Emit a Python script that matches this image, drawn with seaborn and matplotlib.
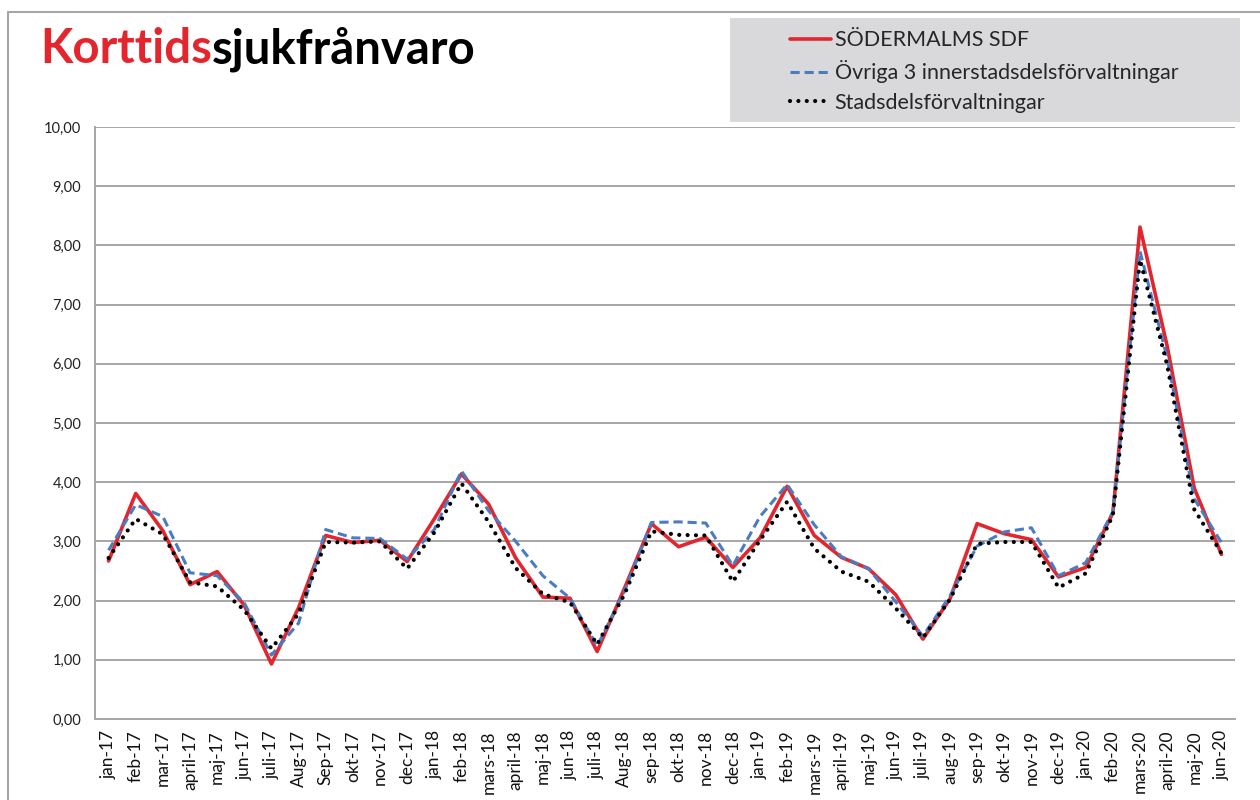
import numpy as np
import pandas as pd
import seaborn as sns
from matplotlib import pyplot as plt
from matplotlib.patches import Rectangle
from matplotlib.lines import Line2D


months = ["jan-17", "feb-17", "mar-17", "april-17", "maj-17", "jun-17", "juli-17",
          "Aug-17", "Sep-17", "okt-17", "nov-17", "dec-17",
          "jan-18", "feb-18", "mars-18", "april-18", "maj-18", "jun-18", "juli-18",
          "Aug-18", "sep-18", "okt-18", "nov-18", "dec-18",
          "jan-19", "feb-19", "mars-19", "april-19", "maj-19", "jun-19", "juli-19",
          "aug-19", "sep-19", "okt-19", "nov-19", "dec-19",
          "jan-20", "feb-20", "mars-20", "april-20", "maj-20", "jun-20"]

sodermalm = [2.67, 3.81, 3.18, 2.27, 2.49, 1.92, 0.93, 1.88, 3.10, 2.98, 3.02, 2.66,
             3.38, 4.14, 3.63, 2.72, 2.06, 2.04, 1.14, 2.20, 3.30, 2.91, 3.07, 2.56,
             3.06, 3.93, 3.10, 2.73, 2.54, 2.10, 1.35, 2.03, 3.30, 3.13, 3.03, 2.40,
             2.56, 3.48, 8.31, 6.30, 3.90, 2.78]
ovriga = [2.85, 3.62, 3.42, 2.47, 2.42, 1.96, 1.08, 1.62, 3.20, 3.06, 3.05, 2.70,
          3.20, 4.19, 3.52, 3.00, 2.42, 2.04, 1.23, 2.15, 3.32, 3.33, 3.31, 2.59,
          3.42, 3.96, 3.28, 2.74, 2.54, 1.98, 1.40, 2.08, 2.92, 3.16, 3.23, 2.42,
          2.64, 3.50, 7.90, 6.10, 3.72, 2.98]
stadsdels = [2.72, 3.38, 3.12, 2.31, 2.24, 1.84, 1.19, 1.78, 2.99, 2.98, 3.00, 2.54,
             3.15, 3.98, 3.33, 2.55, 2.11, 1.97, 1.26, 2.10, 3.17, 3.11, 3.10, 2.32,
             3.02, 3.67, 2.88, 2.49, 2.32, 1.87, 1.37, 2.02, 2.96, 2.99, 2.99, 2.22,
             2.46, 3.44, 7.76, 5.98, 3.54, 2.80]

labels = ["SÖDERMALMS SDF", "Övriga 3 innerstadsdelsförvaltningar", "Stadsdelsförvaltningar"]

RED = "#e3262d"
BLUE = "#4a7cc4"
GRID = "#a6a6a6"

sns.set_style("white")
plt.rcParams["font.family"] = ["Lato", "DejaVu Sans"]

W, H = 1260, 800
fig = plt.figure(figsize=(12.6, 8), dpi=100)
ax = fig.add_axes([95 / W, 1 - 719 / H, (1235 - 95) / W, (719 - 127) / H])

x = np.arange(len(months))
sns.lineplot(x=x, y=sodermalm, ax=ax, color=RED, lw=2.6, label=labels[0])
sns.lineplot(x=x, y=ovriga, ax=ax, color=BLUE, lw=2.2, linestyle=(0, (3, 1.6)),
             label=labels[1])
sns.lineplot(x=x, y=stadsdels, ax=ax, color="black", lw=3.0,
             linestyle=(0, (0.01, 2.0)), dash_capstyle="round", label=labels[2])

ax.set_xlim(-0.5, len(months) - 0.5)
ax.set_ylim(0, 10)
ax.set_yticks(range(0, 11))
ax.set_yticklabels([f"{v:.2f}".replace(".", ",") for v in range(0, 11)],
                   fontsize=10.5, color="#222222")
ax.yaxis.grid(True, color=GRID, lw=1.4)
ax.set_axisbelow(True)

ax.set_xticks(x)
ax.set_xticklabels(months, rotation=90, fontsize=12.5, color="#111111")
ax.set_xticks(np.arange(-0.5, len(months), 1), minor=True)
ax.tick_params(axis="x", which="major", length=0, pad=8)
ax.tick_params(axis="x", which="minor", length=6, width=1.2, color=GRID, direction="out")
ax.tick_params(axis="y", length=6, width=1.2, color=GRID, direction="out", pad=4)
ax.set_xlabel("")
ax.set_ylabel("")

for side in ["top", "right"]:
    ax.spines[side].set_visible(False)
for side in ["left", "bottom"]:
    ax.spines[side].set_color(GRID)
    ax.spines[side].set_linewidth(1.4)

# legend on gray box
fig.patches.append(Rectangle((730 / W, 1 - 122 / H), 510 / W, 104 / H,
                             transform=fig.transFigure, facecolor="#d9d9db",
                             edgecolor="none", zorder=0))
handles, _ = ax.get_legend_handles_labels()
ax.legend_.remove()
fig.legend(handles, labels, loc="upper left", bbox_to_anchor=(771 / W, 1 - 11 / H),
           frameon=False, fontsize=15.5, handlelength=1.9, handletextpad=0.15,
           labelspacing=0.45)

# chart border
fig.add_artist(Line2D([8 / W, 1], [1 - 12 / H, 1 - 12 / H], color=GRID, lw=1.5,
                      transform=fig.transFigure))
fig.add_artist(Line2D([8 / W, 8 / W], [0, 1 - 12 / H], color=GRID, lw=1.5,
                      transform=fig.transFigure))

# two-coloured title
t1 = fig.text(40 / W, 1 - 63 / H, "Korttids", color=RED, fontsize=34,
              fontweight="bold", va="baseline")
fig.canvas.draw()
bb = t1.get_window_extent()
fig.text(bb.x1 / W, 1 - 63 / H, "sjukfrånvaro", color="black", fontsize=34,
         fontweight="bold", va="baseline")

plt.savefig("out.png", dpi=100)
plt.close()
